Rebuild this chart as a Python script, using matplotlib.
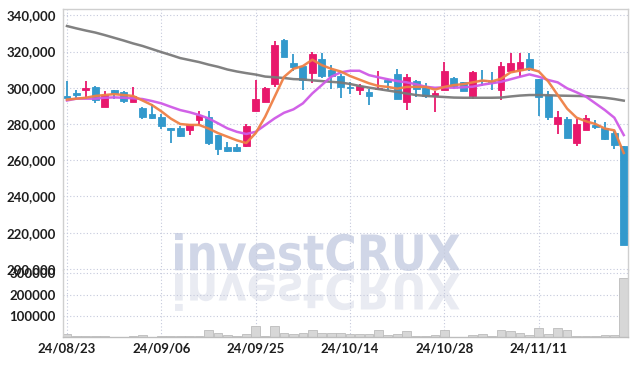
import numpy as np
import matplotlib
matplotlib.use("Agg")
import matplotlib.pyplot as plt
from matplotlib.ticker import FuncFormatter, FixedLocator
from matplotlib.textpath import TextPath
from matplotlib.patches import PathPatch
from matplotlib.font_manager import FontProperties
from matplotlib.transforms import Affine2D, IdentityTransform

# tick labels (trading-day index -> date)
tick_pos = [0, 10, 20, 30, 40, 50]
tick_labels = ['24/08/23', '24/09/06', '24/09/25', '24/10/14', '24/10/28', '24/11/11']

opens = [295500, 297000, 299000, 300500, 289500, 299000, 297500, 292000, 289000, 285500,
         284000, 278000, 278000, 276500, 282000, 284000, 274000, 267500, 267500, 268000,
         287000, 292000, 302000, 326500, 313500, 312000, 308000, 316000, 310000, 306500,
         300500, 299000, 297500, 299500, 304500, 307500, 292000, 303500, 301000, 295500,
         299000, 305500, 303000, 295500, 304500, 303700, 299000, 309500, 310000, 316000,
         305000, 296000, 280000, 283000, 269500, 276500, 279500, 278000, 275000, 268000]
highs = [303500, 299000, 303500, 301000, 298000, 299000, 298000, 300500, 289500, 291000,
         285500, 278000, 279000, 280000, 287000, 287000, 274000, 270000, 269000, 280000,
         304500, 300500, 326000, 327000, 318500, 312000, 319500, 319000, 312500, 307500,
         303000, 302000, 299500, 309500, 305000, 310500, 307500, 304500, 302500, 298000,
         314000, 306000, 303000, 309000, 310000, 308500, 314500, 319000, 319000, 319000,
         305000, 298000, 287000, 284000, 283000, 285000, 282000, 281000, 276000, 268000]
lows = [293000, 294000, 294000, 291500, 289500, 294000, 291500, 292000, 282500, 283000,
        277500, 269500, 273000, 274000, 279500, 268500, 263000, 264500, 264500, 267500,
        287000, 292000, 300500, 317000, 309000, 299000, 302500, 305500, 299500, 294500,
        296500, 296000, 290500, 299000, 299000, 294000, 288000, 295000, 294500, 286500,
        299000, 300000, 298000, 294000, 301000, 299000, 293500, 309500, 306000, 309000,
        284500, 282000, 274500, 272500, 268000, 276500, 277500, 271000, 266000, 213000]
closes = [294500, 296000, 300000, 293500, 296000, 297000, 292500, 295500, 284000, 283500,
          279000, 276500, 273500, 280000, 285000, 269500, 266000, 265000, 265000, 279000,
          294000, 300000, 323500, 317000, 311500, 304500, 318500, 306500, 306500, 300500,
          300000, 301000, 295500, 300000, 303000, 294000, 306000, 299500, 295500, 297000,
          309500, 301000, 298000, 308500, 303500, 303300, 312000, 313500, 314500, 310500,
          295000, 284000, 284000, 272500, 280000, 283500, 278500, 272000, 268500, 213000]

ma5 = [293500, 294000, 294500, 295500, 296000, 296500, 296000, 295500, 293000, 290500,
       287000, 283000, 280000, 279500, 279500, 277500, 275000, 273000, 271000, 269500,
       275000, 284000, 295000, 306000, 310500, 312000, 315500, 312500, 310500, 309000,
       306500, 304500, 302500, 301000, 300500, 299500, 300500, 300500, 300500, 299000,
       300500, 301500, 302000, 303000, 304000, 303500, 305000, 308500, 309500, 310500,
       309000, 303500, 296000, 288500, 283500, 281500, 280000, 277500, 276500, 264000]
ma20 = [293000, 294000, 294000, 294000, 294500, 294700, 294500, 294200, 293800, 292700,
        291400, 289500, 287700, 286500, 285000, 283100, 280400, 277600, 275700, 274500,
        275700, 279400, 283100, 286200, 288100, 291400, 296900, 301500, 306100, 308500,
        309400, 309400, 307000, 305800, 304700, 303700, 303000, 301900, 300600, 300000,
        300300, 300000, 300300, 300600, 301700, 302500, 303300, 304700, 306100, 307400,
        306100, 304300, 303000, 299700, 297500, 295100, 291400, 287700, 283500, 273900]
ma120 = [334100, 332800, 331600, 330500, 329100, 327600, 326100, 324500, 323100, 321400,
         319700, 318100, 316400, 315300, 314200, 312800, 311600, 310100, 309000, 308100,
         307300, 306200, 305800, 305400, 304800, 304600, 304100, 303700, 303300, 302900,
         302100, 301000, 300100, 299300, 298500, 297700, 296800, 296000, 295500, 295200,
         294900, 294600, 294500, 294500, 294500, 294500, 294600, 295200, 295700, 296000,
         296000, 295900, 295700, 295600, 295500, 295400, 295000, 294500, 293800, 292900]
volume = [13000, 3000, 7000, 7000, 7000, 2000, 2000, 7000, 11000, 2000,
          7000, 7000, 3000, 3000, 3000, 32000, 21000, 11000, 7000, 16000,
          54000, 7000, 54000, 21000, 16000, 21000, 35000, 21000, 21000, 21000,
          14000, 14000, 14000, 32000, 11000, 16000, 26000, 7000, 7000, 11000,
          32000, 2000, 2000, 11000, 16000, 3000, 32000, 27000, 21000, 11000,
          41000, 16000, 41000, 35000, 7000, 7000, 7000, 11000, 11000, 278000]

RED = '#e8186c'
BLUE = '#3399cc'
GRID = '#c5c9dc'

fig = plt.figure(figsize=(6.37, 3.66), dpi=100)
ax = fig.add_axes([63/637, 96/366, 565/637, 261/366])
axv = fig.add_axes([63/637, 29/366, 565/637, 67/366], sharex=ax)

# watermark with reflection, under the grid
fp = FontProperties(family='DejaVu Sans', weight='bold')
tp = TextPath((0, 0), "investCRUX", size=50, prop=fp)
bb = tp.get_extents()
sx = (460 - 175) / bb.width
sy = (271 - 233) / bb.height
t_main = Affine2D().translate(-bb.x0, -bb.y0).scale(sx, sy).translate(175, 366 - 271)
t_refl = Affine2D().translate(-bb.x0, -bb.y0).scale(sx, -sy).translate(175, 366 - 273)
for tr, col in [(t_main, '#d0d6e7'), (t_refl, '#e9ebf2')]:
    p = PathPatch(tr.transform_path(tp), facecolor=col, edgecolor='none',
                  transform=IdentityTransform(), zorder=-1)
    fig.add_artist(p)

x = np.arange(len(opens))
o = np.array(opens); c = np.array(closes)
colors = [RED if cc > oo else BLUE for oo, cc in zip(o, c)]
body_lo = np.minimum(o, c)
body_h = np.maximum(np.abs(c - o), 600)

ax.vlines(x, lows, highs, colors=colors, linewidth=1.3, zorder=2)
ax.bar(x, body_h, bottom=body_lo, width=0.72, color=colors,
       edgecolor=colors, linewidth=0.6, zorder=3)

ax.plot(x, ma120, color='#7a7a7a', lw=1.8, alpha=0.95, zorder=4)
ax.plot(x, ma20, color='#cf5ae6', lw=1.8, alpha=0.95, zorder=4)
ax.plot(x, ma5, color='#ef8045', lw=1.8, alpha=0.95, zorder=4)

ax.set_xlim(-0.42, 59.45)
ax.set_ylim(199400, 343500)
ax.yaxis.set_major_locator(FixedLocator(range(200000, 340001, 20000)))
ax.yaxis.set_major_formatter(FuncFormatter(lambda v, p: f"{int(v):,}"))

axv.bar(x, volume, width=0.92, color='#d7d7d7', edgecolor='#bcbcbc', linewidth=0.6, zorder=2)
axv.set_ylim(0, 316000)
axv.yaxis.set_major_locator(FixedLocator([100000, 200000, 300000]))
axv.yaxis.set_major_formatter(FuncFormatter(lambda v, p: f"{int(v)}"))
axv.set_xticks(tick_pos)
axv.set_xticklabels(tick_labels)

for a in (ax, axv):
    a.set_facecolor('none')
    a.grid(True, color=GRID, linestyle=(0, (1, 2)), linewidth=0.8, zorder=0)
    a.set_axisbelow(True)
    a.tick_params(length=0, pad=5, labelcolor='#1e1e1e')
    for lab in a.get_yticklabels() + a.get_xticklabels():
        lab.set_family('Lato')
        lab.set_weight('bold')
        lab.set_size(9.5)
    for s in a.spines.values():
        s.set_color('#cfcfcf')
        s.set_linewidth(1.0)

ax.spines['bottom'].set_visible(False)
axv.spines['top'].set_visible(False)
axv.spines['bottom'].set_color('#bdbdbd')
plt.setp(ax.get_xticklabels(), visible=False)
axv.tick_params(axis='x', pad=4)

fig.savefig('out.png', dpi=100)
